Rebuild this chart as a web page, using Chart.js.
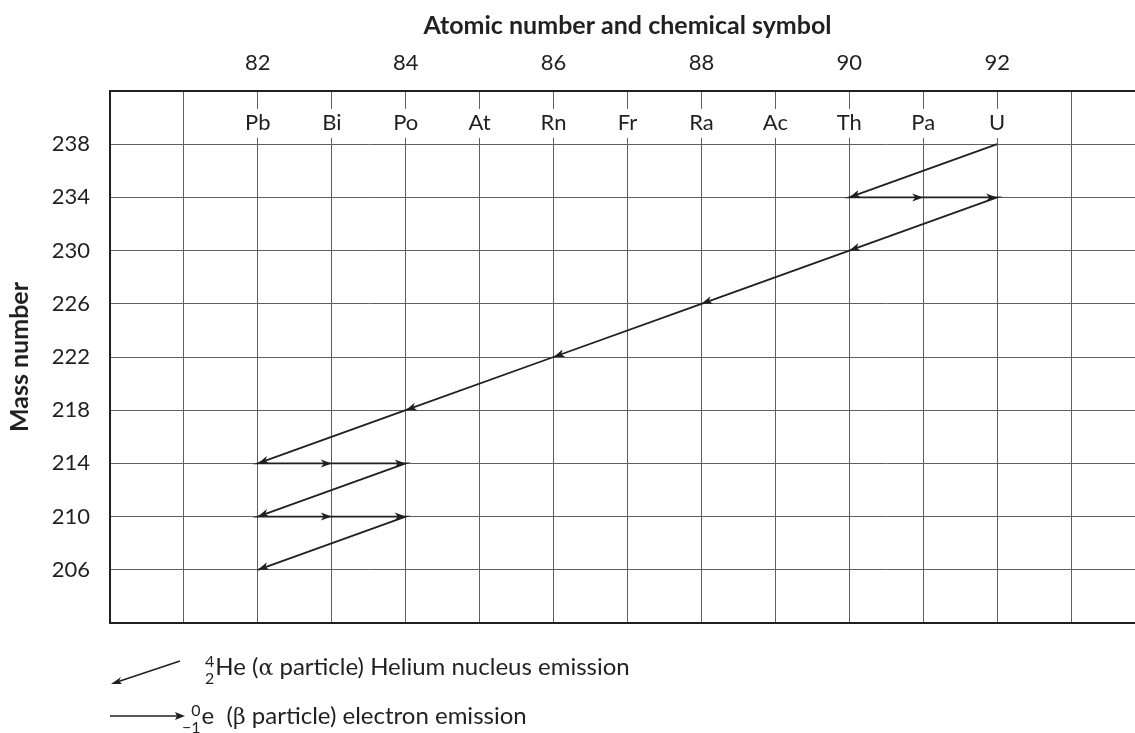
<!DOCTYPE html>
<html>
<head>
<meta charset="utf-8">
<script src="https://cdn.jsdelivr.net/npm/chart.js@4.4.1/dist/chart.umd.min.js"></script>
<style>
  html, body { margin: 0; padding: 0; background: #fff; width: 1135px; height: 733px; overflow: hidden; }
  #wrap { position: absolute; left: 0; top: 0; width: 1160px; height: 733px; }
  .legend { position: absolute; font-family: Lato, sans-serif; font-size: 24px; color: #231f20; white-space: nowrap; }
  .nuc { display: inline-block; vertical-align: middle; text-align: right; font-size: 16px; line-height: 17px; margin-right: 1px; }
  .greek { font-family: "DejaVu Serif", serif; font-size: 22px; }
  svg.arrow { position: absolute; }
</style>
</head>
<body>
<div id="wrap"><canvas id="chart" width="1160" height="733"></canvas></div>

<svg class="arrow" style="left:100px;top:650px" width="90" height="45">
  <line x1="80" y1="11" x2="14" y2="33" stroke="#231f20" stroke-width="1.6"/>
  <polygon points="11,34 21,27 19,31 22,34" fill="#231f20"/>
</svg>
<div class="legend" style="left:205px;top:651px">
  <span class="nuc">4<br>2</span>He (<span class="greek">α</span> particle) Helium nucleus emission
</div>

<svg class="arrow" style="left:105px;top:706px" width="90" height="20">
  <line x1="5" y1="10" x2="72" y2="10" stroke="#231f20" stroke-width="1.6"/>
  <polygon points="80,10 70,6 72,10 70,14" fill="#231f20"/>
</svg>
<div class="legend" style="left:182px;top:700px">
  <span class="nuc">0<br>−1</span>e&nbsp; (<span class="greek">β</span> particle) electron emission
</div>

<script>
// Axis values
const atomicNumbers = [82, 83, 84, 85, 86, 87, 88, 89, 90, 91, 92];
const symbols = ['Pb', 'Bi', 'Po', 'At', 'Rn', 'Fr', 'Ra', 'Ac', 'Th', 'Pa', 'U'];
const numberTicks = [82, 84, 86, 88, 90, 92];
const massTicks = [206, 210, 214, 218, 222, 226, 230, 234, 238];
const symbolRowMass = 239.6;

// U-238 decay chain, step by step (atomic number, mass number)
const chainZ = [92, 90, 91, 92, 90, 88, 86, 84, 82, 83, 84, 82, 83, 84, 82];
const chainA = [238, 234, 234, 234, 230, 226, 222, 218, 214, 214, 214, 210, 210, 210, 206];

const ink = '#231f20';
const gridGray = '#5f6062';
const fontFamily = 'Lato, sans-serif';

// element symbols sit on the grid lines with a white patch behind them
const symbolPlugin = {
  id: 'symbols',
  afterDraw(chart) {
    const { ctx, scales: { x, y } } = chart;
    ctx.save();
    ctx.font = '22px ' + fontFamily;
    ctx.textAlign = 'center';
    ctx.textBaseline = 'middle';
    const py = y.getPixelForValue(symbolRowMass);
    symbols.forEach((s, i) => {
      const px = x.getPixelForValue(atomicNumbers[i]);
      const w = ctx.measureText(s).width;
      ctx.fillStyle = '#fff';
      ctx.fillRect(px - w / 2 - 2, py - 14, w + 4, 29);
      ctx.fillStyle = ink;
      ctx.fillText(s, px, py);
    });
    ctx.restore();
  }
};

// arrow heads at the end of every decay step
const arrowPlugin = {
  id: 'arrows',
  afterDatasetsDraw(chart) {
    const { ctx, scales: { x, y } } = chart;
    ctx.save();
    ctx.fillStyle = ink;
    for (let i = 1; i < chainZ.length; i++) {
      const x0 = x.getPixelForValue(chainZ[i - 1]), y0 = y.getPixelForValue(chainA[i - 1]);
      const x1 = x.getPixelForValue(chainZ[i]), y1 = y.getPixelForValue(chainA[i]);
      const ang = Math.atan2(y1 - y0, x1 - x0);
      const len = 11, half = 4, notch = 8;
      ctx.save();
      ctx.translate(x1, y1);
      ctx.rotate(ang);
      ctx.beginPath();
      ctx.moveTo(0, 0);
      ctx.lineTo(-len, -half);
      ctx.lineTo(-notch, 0);
      ctx.lineTo(-len, half);
      ctx.closePath();
      ctx.fill();
      ctx.restore();
    }
    ctx.restore();
  }
};

new Chart(document.getElementById('chart'), {
  type: 'scatter',
  data: {
    datasets: [{
      data: chainZ.map((z, i) => ({ x: z, y: chainA[i] })),
      showLine: true,
      borderColor: ink,
      borderWidth: 1.8,
      pointRadius: 0,
      fill: false
    }]
  },
  options: {
    responsive: false,
    animation: false,
    layout: { padding: { left: 0, top: 0, right: 14, bottom: 110 } },
    plugins: { legend: { display: false }, tooltip: { enabled: false } },
    scales: {
      x: {
        type: 'linear',
        position: 'top',
        min: 80,
        max: 94,
        afterFit: s => { s.height = 91; },
        ticks: {
          stepSize: 1,
          autoSkip: false,
          maxRotation: 0,
          padding: 15,
          color: ink,
          font: { family: fontFamily, size: 22 },
          callback: v => numberTicks.includes(v) ? String(v) : ''
        },
        grid: { color: gridGray, lineWidth: 1, drawTicks: false },
        border: { display: true, color: ink, width: 2 },
        title: {
          display: true,
          text: 'Atomic number and chemical symbol',
          color: ink,
          font: { family: fontFamily, size: 25, weight: 'bold' },
          padding: { top: 11, bottom: 0 }
        }
      },
      y: {
        type: 'linear',
        position: 'left',
        min: 202,
        max: 242,
        afterFit: s => { s.width = 110; },
        ticks: {
          stepSize: 4,
          autoSkip: false,
          padding: 20,
          color: ink,
          font: { family: fontFamily, size: 22 },
          callback: v => massTicks.includes(v) ? String(v) : ''
        },
        grid: {
          color: c => (c.tick && c.tick.value === 202) ? ink : gridGray,
          lineWidth: c => (c.tick && c.tick.value === 202) ? 2 : 1,
          drawTicks: false
        },
        border: { display: true, color: ink, width: 2 },
        title: {
          display: true,
          text: 'Mass number',
          color: ink,
          font: { family: fontFamily, size: 25, weight: 'bold' },
          padding: { top: 5, bottom: 0 }
        }
      }
    }
  },
  plugins: [symbolPlugin, arrowPlugin]
});
</script>
</body>
</html>
